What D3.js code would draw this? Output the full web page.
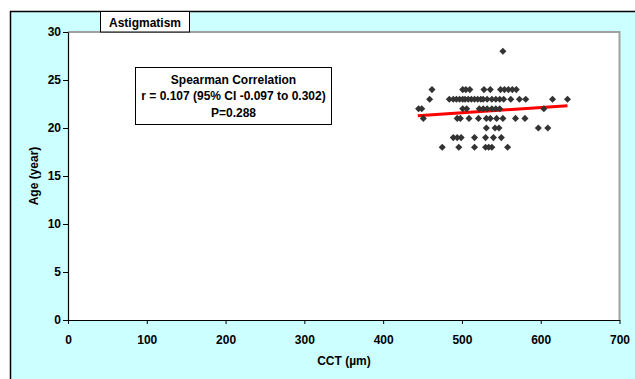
<!DOCTYPE html>
<html>
<head>
<meta charset="utf-8">
<script src="https://cdn.jsdelivr.net/npm/d3@7"></script>
<style>
  html, body { margin: 0; padding: 0; background: #ffffff; }
  svg { display: block; }
  text { font-family: "Liberation Sans", Arial, sans-serif; font-weight: bold; fill: #000; }
</style>
</head>
<body>
<svg id="chart" width="635" height="379"></svg>
<script>
// ---- Data ----
const cctValues = [
  // age 24
  462, 501, 505, 510, 528, 536, 549, 554, 559, 564, 569,
  // age 23
  459, 484, 489, 493, 497, 501, 504, 508, 512, 516, 520, 524, 527, 532, 538, 543, 548, 553, 562, 573, 581, 615, 634,
  // age 22
  445, 449, 501, 506, 522, 527, 532, 538, 543, 548, 604,
  // age 21
  451, 494, 498, 509, 521, 531, 536, 544, 552, 568, 580,
  // age 20
  531, 542, 547, 597, 609,
  // age 19
  489, 494, 499, 516, 530, 540, 550,
  // age 18
  475, 496, 516, 530, 534, 538, 558,
  // age 28
  552
];
const ageValues = [
  24, 24, 24, 24, 24, 24, 24, 24, 24, 24, 24,
  23, 23, 23, 23, 23, 23, 23, 23, 23, 23, 23, 23, 23, 23, 23, 23, 23, 23, 23, 23, 23, 23, 23,
  22, 22, 22, 22, 22, 22, 22, 22, 22, 22, 22,
  21, 21, 21, 21, 21, 21, 21, 21, 21, 21, 21,
  20, 20, 20, 20, 20,
  19, 19, 19, 19, 19, 19, 19,
  18, 18, 18, 18, 18, 18, 18,
  28
];
const trendX = [444, 634];
const trendY = [21.28, 22.32];
const xTicks = [0, 100, 200, 300, 400, 500, 600, 700];
const yTicks = [0, 5, 10, 15, 20, 25, 30];
const chartTitle = "Astigmatism";
const xTitle = "CCT (µm)";
const yTitle = "Age (year)";
const annotationLines = ["Spearman Correlation", "r = 0.107 (95% CI -0.097 to 0.302)", "P=0.288"];

// ---- Drawing ----
const svg = d3.select("#chart");
const W = 635, H = 379;
const plot = { left: 68, right: 619.5, top: 32, bottom: 320 };

// outer chart area
svg.append("rect").attr("x", 10).attr("y", 11).attr("width", W).attr("height", H)
  .attr("fill", "#CCFFFF");
svg.append("path").attr("d", `M10.5,${H} L10.5,11.5 L${W},11.5`)
  .attr("fill", "none").attr("stroke", "#000").attr("stroke-width", 1.5);

const x = d3.scaleLinear().domain([0, 700]).range([plot.left, plot.right]);
const y = d3.scaleLinear().domain([0, 30]).range([plot.bottom, plot.top]);

// plot area
svg.append("rect").attr("x", plot.left).attr("y", plot.top)
  .attr("width", plot.right - plot.left).attr("height", plot.bottom - plot.top)
  .attr("fill", "#ffffff");
svg.append("path")
  .attr("d", `M${plot.left},${plot.top} L${plot.right},${plot.top} L${plot.right},${plot.bottom}`)
  .attr("fill", "none").attr("stroke", "#A0A0A0").attr("stroke-width", 2);

// axes
const xAxis = svg.append("g").attr("transform", `translate(0,${plot.bottom})`)
  .call(d3.axisBottom(x).tickValues(xTicks).tickFormat(d3.format("d")).tickSize(4).tickSizeOuter(0).tickPadding(11));
const yAxis = svg.append("g").attr("transform", `translate(${plot.left},0)`)
  .call(d3.axisLeft(y).tickValues(yTicks).tickFormat(d3.format("d")).tickSize(5).tickSizeOuter(0).tickPadding(2));
[xAxis, yAxis].forEach(g => {
  g.select(".domain").attr("stroke", "#000").attr("stroke-width", 1.2);
  g.selectAll(".tick line").attr("stroke", "#000").attr("stroke-width", 1);
  g.selectAll(".tick text").attr("font-size", 12)
    .attr("font-family", "'Liberation Sans', Arial, sans-serif").attr("font-weight", "bold").attr("fill", "#000");
});

// axis titles
svg.append("text").attr("x", 344).attr("y", 365).attr("text-anchor", "middle")
  .attr("font-size", 12).text(xTitle);
svg.append("text").attr("transform", `translate(38,176) rotate(-90)`).attr("text-anchor", "middle")
  .attr("font-size", 12).text(yTitle);

// trend line
const pts = cctValues.map((c, i) => ({ c, a: ageValues[i] }));
const trend = trendX.map((t, i) => [t, trendY[i]]);
svg.append("path").datum(trend)
  .attr("d", d3.line().x(d => x(d[0])).y(d => y(d[1])))
  .attr("stroke", "#FF0000").attr("stroke-width", 3).attr("fill", "none");

// points (diamonds)
const sym = d3.symbol().type(d3.symbolSquare).size(25);
svg.append("g").selectAll("path").data(pts).join("path")
  .attr("d", sym)
  .attr("transform", d => `translate(${x(d.c)},${y(d.a)}) rotate(45)`)
  .attr("fill", "#333333");

// title box
svg.append("rect").attr("x", 100.5).attr("y", 11.5).attr("width", 89).attr("height", 20.5)
  .attr("fill", "#ffffff").attr("stroke", "#000").attr("stroke-width", 1);
svg.append("text").attr("x", 145).attr("y", 26.5).attr("text-anchor", "middle")
  .attr("font-size", 12).text(chartTitle);

// annotation box
svg.append("rect").attr("x", 135.5).attr("y", 67.5).attr("width", 196).attr("height", 57)
  .attr("fill", "#ffffff").attr("stroke", "#000").attr("stroke-width", 1);
const annBase = [84, 100, 116.5];
svg.append("g").selectAll("text").data(annotationLines).join("text")
  .attr("x", 233.5).attr("y", (d, i) => annBase[i]).attr("text-anchor", "middle")
  .attr("font-size", 12).text(d => d);
</script>
</body>
</html>
